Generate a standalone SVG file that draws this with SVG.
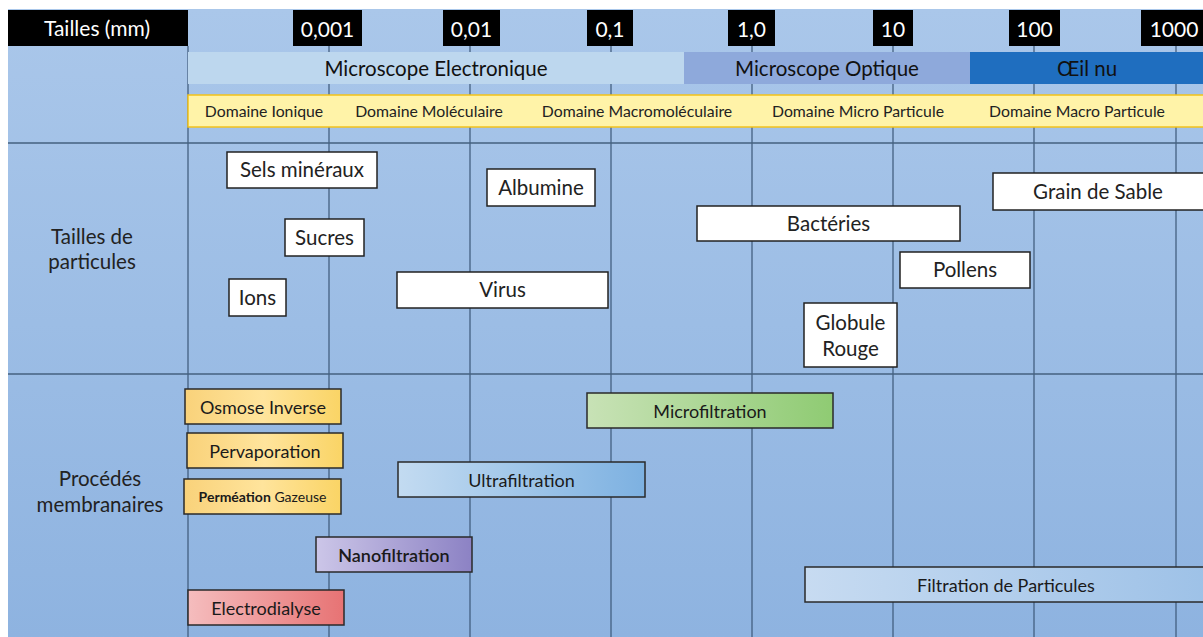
<svg xmlns="http://www.w3.org/2000/svg" width="1203" height="637" viewBox="0 0 1203 637">
<defs>
<linearGradient id="bg" x1="0" y1="0" x2="0" y2="1"><stop offset="0" stop-color="#AAC7EA"/><stop offset="1" stop-color="#8EB3E0"/></linearGradient>
<linearGradient id="gYel" x1="0" y1="0" x2="1" y2="0"><stop offset="0" stop-color="#F9D27A"/><stop offset="0.5" stop-color="#FFE49C"/><stop offset="1" stop-color="#FAD465"/></linearGradient>
<linearGradient id="gPur" x1="0" y1="0" x2="1" y2="0"><stop offset="0" stop-color="#CCC6E8"/><stop offset="1" stop-color="#8C82C4"/></linearGradient>
<linearGradient id="gRed" x1="0" y1="0" x2="1" y2="0"><stop offset="0" stop-color="#F5BDBE"/><stop offset="1" stop-color="#E77374"/></linearGradient>
<linearGradient id="gGrn" x1="0" y1="0" x2="1" y2="0"><stop offset="0" stop-color="#C8E2B6"/><stop offset="1" stop-color="#8FCB73"/></linearGradient>
<linearGradient id="gBlu" x1="0" y1="0" x2="1" y2="0"><stop offset="0" stop-color="#C3DBF1"/><stop offset="1" stop-color="#7DB1E1"/></linearGradient>
<linearGradient id="gPart" x1="0" y1="0" x2="1" y2="0"><stop offset="0" stop-color="#C7DBF1"/><stop offset="1" stop-color="#9DC1E7"/></linearGradient>
</defs>
<style>
text{font-family:Lato,"Liberation Sans",sans-serif;text-anchor:middle;fill:#1a1a1a}
.hd{fill:#000}
.ht{fill:#fff;font-size:21px}
.band{font-size:20.5px;fill:#111}
.dom{font-size:15.8px;fill:#222}
.pbox{fill:#fff;stroke:#222;stroke-width:1.5}
.pt{font-size:20.5px;fill:#222}
.mbox{stroke:#2a2a2a;stroke-width:1.5}
.mt{font-size:18px;fill:#1a1a1a}
.lab{font-size:20.5px;fill:#222}
.grid{stroke:#3C5878;stroke-width:1.2}
.sep{stroke:#44607F;stroke-width:1.5}
</style>
<rect x="0" y="0" width="1203" height="637" fill="#fff"/>
<rect x="8" y="9" width="1195" height="628" fill="url(#bg)"/>

<g id="grid">
<line class="grid" x1="188" y1="46" x2="188" y2="637"/>
<line class="grid" x1="329" y1="46" x2="329" y2="637"/>
<line class="grid" x1="470" y1="46" x2="470" y2="637"/>
<line class="grid" x1="611" y1="46" x2="611" y2="637"/>
<line class="grid" x1="752" y1="46" x2="752" y2="637"/>
<line class="grid" x1="893" y1="46" x2="893" y2="637"/>
<line class="grid" x1="1034" y1="46" x2="1034" y2="637"/>
<line class="grid" x1="1176" y1="46" x2="1176" y2="637"/>
<line class="sep" x1="8" y1="143" x2="1203" y2="143"/>
<line class="sep" x1="8" y1="374" x2="1203" y2="374"/>
</g>

<g id="header">
<rect class="hd" x="8" y="10" width="180" height="36"/>
<text class="ht" x="97" y="36">Tailles (mm)</text>
</g>
<g id="ticks">
<rect class="hd" x="293" y="10" width="69" height="36"/><text class="ht" x="327.5" y="37">0,001</text>
<rect class="hd" x="443" y="10" width="57" height="36"/><text class="ht" x="471.5" y="37">0,01</text>
<rect class="hd" x="587" y="10" width="46" height="36"/><text class="ht" x="610" y="37">0,1</text>
<rect class="hd" x="728" y="10" width="47" height="36"/><text class="ht" x="751.5" y="37">1,0</text>
<rect class="hd" x="873" y="10" width="40" height="36"/><text class="ht" x="893" y="37">10</text>
<rect class="hd" x="1009" y="10" width="51" height="36"/><text class="ht" x="1034.5" y="37">100</text>
<rect class="hd" x="1141" y="10" width="62" height="36"/><text class="ht" x="1174" y="37">1000</text>
</g>

<g id="microscopes">
<rect x="188" y="52" width="496" height="32" fill="#BDD7EE"/>
<text class="band" x="436" y="76">Microscope Electronique</text>
<rect x="684" y="52" width="286" height="32" fill="#8EA9DB"/>
<text class="band" x="827" y="76">Microscope Optique</text>
<rect x="970" y="52" width="233" height="32" fill="#1F6EBF"/>
<text class="band" x="1087" y="76">Œil nu</text>
</g>

<g id="domaines">
<rect x="188" y="95" width="1016" height="32" fill="#FFF3A8" stroke="#F2C21B" stroke-width="1.5"/>
<text class="dom" x="264" y="117">Domaine Ionique</text>
<text class="dom" x="429" y="117">Domaine Moléculaire</text>
<text class="dom" x="637" y="117">Domaine Macromoléculaire</text>
<text class="dom" x="858" y="117">Domaine Micro Particule</text>
<text class="dom" x="1077" y="117">Domaine Macro Particule</text>
</g>

<g id="lab-particules">
<text class="lab" x="92" y="244">Tailles de</text>
<text class="lab" x="92" y="269">particules</text>
</g>
<g id="lab-procedes">
<text class="lab" x="100" y="486">Procédés</text>
<text class="lab" x="100" y="512">membranaires</text>
</g>

<g id="sels"><rect class="pbox" x="227" y="152" width="150" height="36"/><text class="pt" x="302" y="177">Sels minéraux</text></g>
<g id="sucres"><rect class="pbox" x="285" y="219" width="79" height="37"/><text class="pt" x="324.5" y="244.5">Sucres</text></g>
<g id="ions"><rect class="pbox" x="229" y="279" width="57" height="37"/><text class="pt" x="257.5" y="304.5">Ions</text></g>
<g id="albumine"><rect class="pbox" x="487" y="169" width="108" height="37"/><text class="pt" x="541" y="194.5">Albumine</text></g>
<g id="virus"><rect class="pbox" x="397" y="272" width="211" height="36"/><text class="pt" x="502.5" y="297">Virus</text></g>
<g id="bacteries"><rect class="pbox" x="697" y="206" width="263" height="35"/><text class="pt" x="828.5" y="230.5">Bactéries</text></g>
<g id="sable"><rect class="pbox" x="993" y="173" width="220" height="37"/><text class="pt" x="1098" y="198.5">Grain de Sable</text></g>
<g id="pollens"><rect class="pbox" x="900" y="252" width="130" height="36"/><text class="pt" x="965" y="277">Pollens</text></g>
<g id="globule"><rect class="pbox" x="804" y="303" width="93" height="64"/><text class="pt" x="850.5" y="329.5">Globule</text><text class="pt" x="850.5" y="356">Rouge</text></g>

<g id="osmose"><rect class="mbox" x="185" y="389" width="156" height="35" fill="url(#gYel)"/><text class="mt" x="263" y="414">Osmose Inverse</text></g>
<g id="pervaporation"><rect class="mbox" x="187" y="433" width="156" height="35" fill="url(#gYel)"/><text class="mt" x="265" y="458">Pervaporation</text></g>
<g id="permeation"><rect class="mbox" x="184" y="479" width="157" height="35" fill="url(#gYel)"/><text x="262.5" y="501.5" style="font-size:14px"><tspan font-weight="bold">Perméation</tspan> Gazeuse</text></g>
<g id="nanofiltration"><rect class="mbox" x="316" y="537" width="156" height="35" fill="url(#gPur)"/><text class="mt" x="394" y="561.5" font-weight="600">Nanofiltration</text></g>
<g id="electrodialyse"><rect class="mbox" x="188" y="590" width="156" height="35" fill="url(#gRed)"/><text class="mt" x="266" y="614.5">Electrodialyse</text></g>
<g id="microfiltration"><rect class="mbox" x="587" y="393" width="246" height="35" fill="url(#gGrn)"/><text class="mt" x="710" y="418">Microfiltration</text></g>
<g id="ultrafiltration"><rect class="mbox" x="398" y="462" width="247" height="35" fill="url(#gBlu)"/><text class="mt" x="521.5" y="487">Ultrafiltration</text></g>
<g id="filtration-particules"><rect class="mbox" x="805" y="567" width="410" height="35" fill="url(#gPart)"/><text class="mt" x="1006" y="592">Filtration de Particules</text></g>
</svg>
